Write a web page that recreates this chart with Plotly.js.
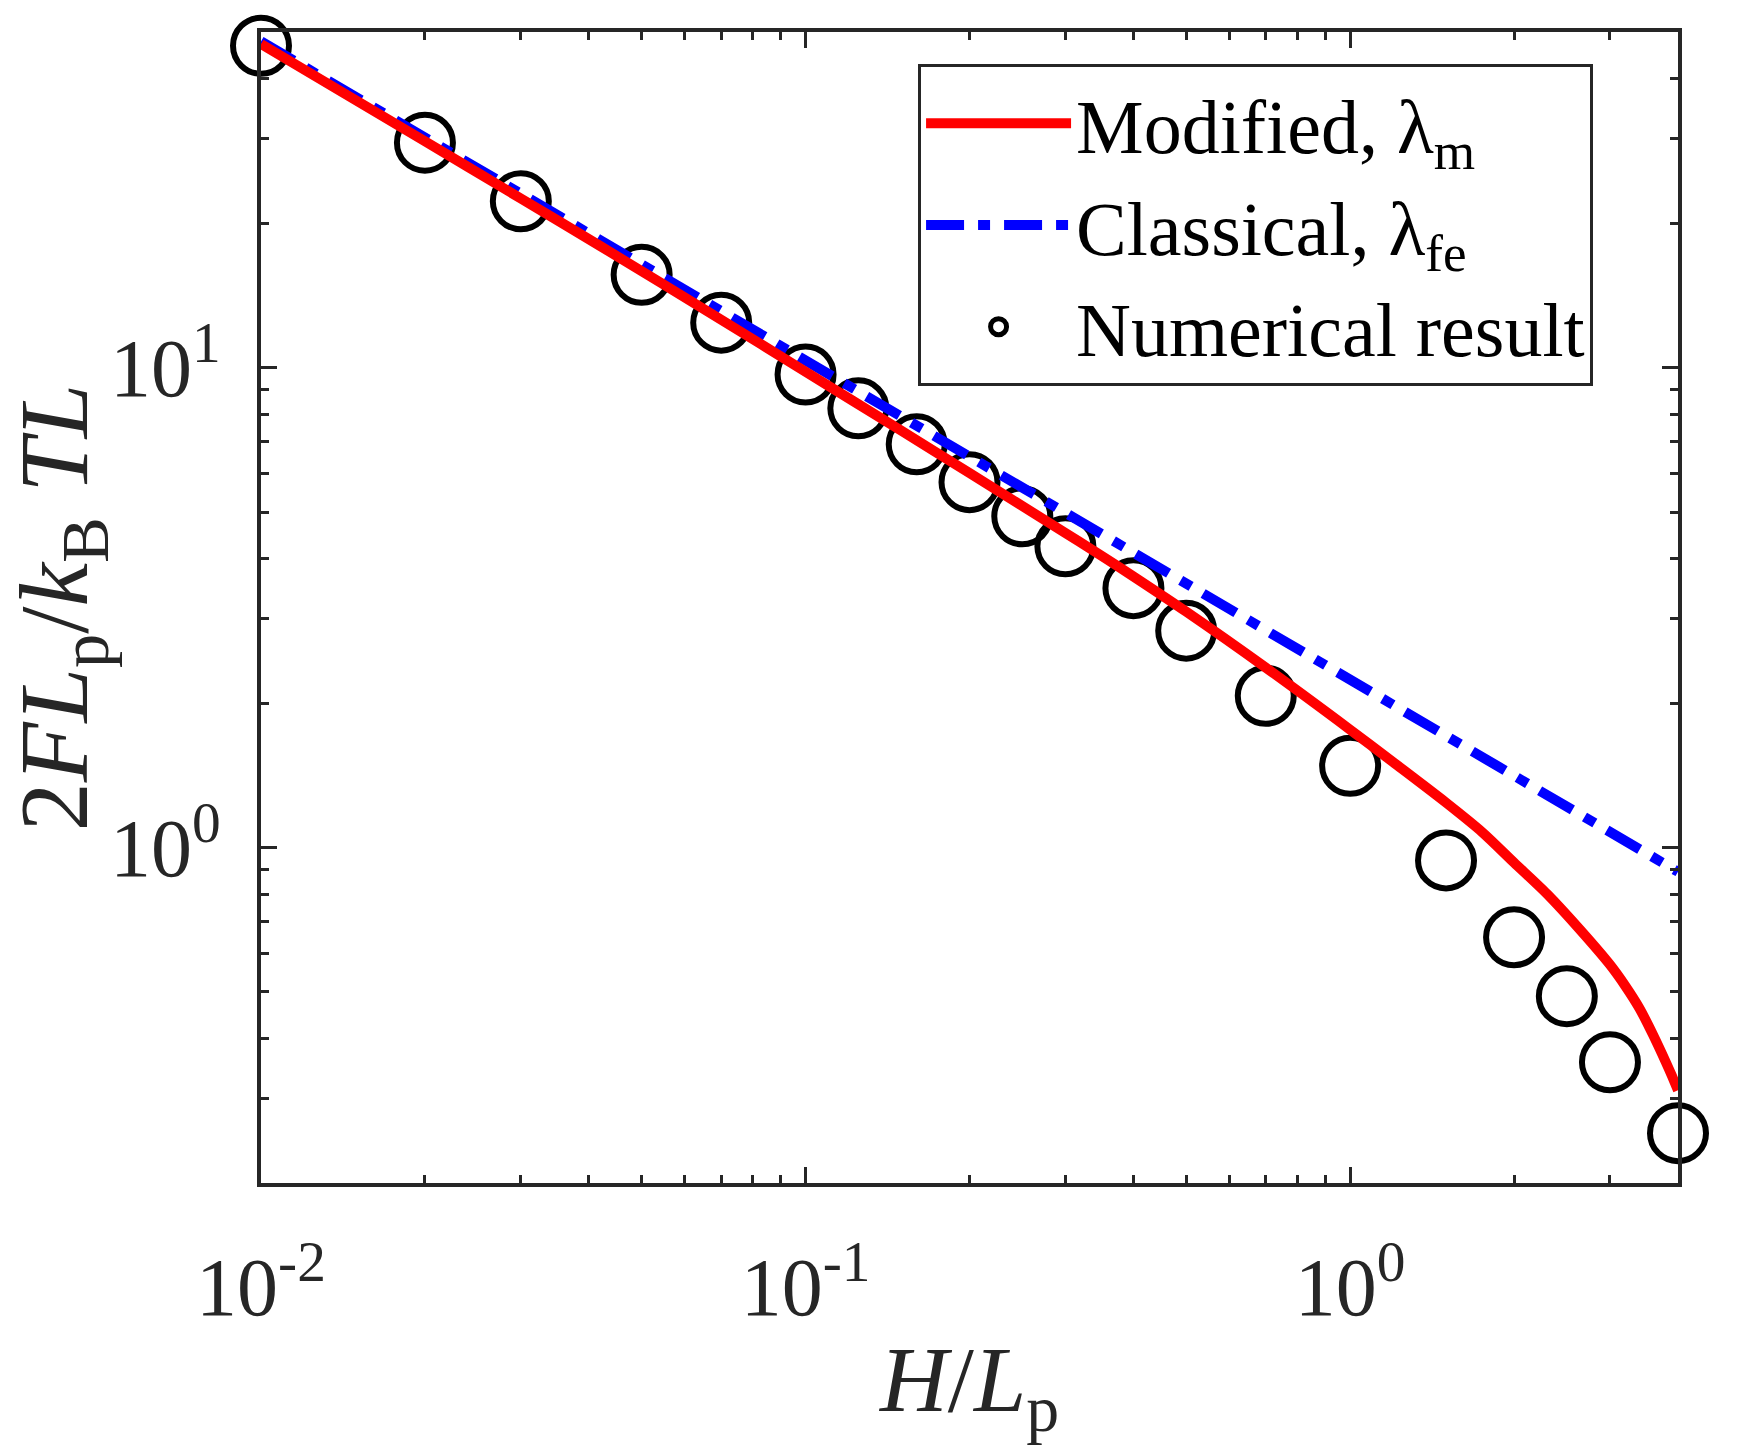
<!DOCTYPE html>
<html>
<head>
<meta charset="utf-8">
<script src="https://cdn.plot.ly/plotly-3.0.1.min.js"></script>
<style>
  html, body { margin: 0; padding: 0; background: #fff; }
  #chart { width: 1752px; height: 1456px; }
</style>
</head>
<body>
<div id="chart"></div>
<script>
// numerical result (circles)
const hNum = [0.01, 0.02, 0.03, 0.05, 0.07, 0.1, 0.125, 0.16, 0.2, 0.25, 0.3, 0.4, 0.5, 0.7, 1, 1.5, 2, 2.5, 3, 4];
const fNum = [46.8, 29.4, 22.2, 15.6, 12.4, 9.67, 8.22, 6.92, 5.77, 4.90, 4.24, 3.47, 2.83, 2.07, 1.48, 0.94, 0.65, 0.49, 0.357, 0.254];

// modified theory, lambda_m (red solid)
const hMod = [0.01, 0.02, 0.03, 0.042, 0.07, 0.1, 0.15, 0.2, 0.3, 0.35, 0.4, 0.5, 0.7, 1.0, 1.2, 1.5, 1.75, 2.0, 2.3, 2.65, 3.0, 3.2, 3.4, 3.6, 3.8, 3.9, 4.0];
const fMod = [47.2, 29.6, 22.5, 17.9, 12.58, 9.80, 7.38, 6.03, 4.52, 4.05, 3.67, 3.10, 2.37, 1.76, 1.505, 1.24, 1.075, 0.93, 0.80, 0.672, 0.570, 0.515, 0.462, 0.407, 0.357, 0.334, 0.312];

// classical theory, lambda_fe (blue dash-dot)
const hCla = [0.01, 0.03, 0.1, 0.3, 1, 2, 4];
const fCla = [47.8, 23.0, 10.3, 4.95, 2.22, 1.40, 0.89];

const xTickVals = [0.01, 0.1, 1];
const xTickText = ['10<sup>-2</sup>', '10<sup>-1</sup>', '10<sup>0</sup>'];
const yTickVals = [1, 10];
const yTickText = ['10<sup>0</sup>', '10<sup>1</sup>'];

const FONT = 'Liberation Serif, Times New Roman, serif';
const INK = '#262626';

const traces = [
  {
    x: hNum, y: fNum,
    type: 'scatter', mode: 'markers',
    name: 'Numerical result',
    legendrank: 3,
    cliponaxis: false,
    marker: { symbol: 'circle-open', size: 56, color: '#000', line: { width: 6, color: '#000' } }
  },
  {
    x: hCla, y: fCla,
    type: 'scatter', mode: 'lines',
    name: 'Classical, \u03bb<sub>fe</sub>',
    legendrank: 2,
    line: { color: '#0000ff', width: 10, dash: '38px,14px,12px,14px' }
  },
  {
    x: hMod, y: fMod,
    type: 'scatter', mode: 'lines',
    name: 'Modified, \u03bb<sub>m</sub>',
    legendrank: 1,
    line: { color: '#ff0000', width: 10, shape: 'spline', smoothing: 0.8 }
  }
];

const axisBase = {
  type: 'log',
  showline: true,
  linecolor: INK,
  linewidth: 4,
  mirror: 'ticks',
  ticks: 'inside',
  ticklen: 16,
  tickwidth: 3,
  tickcolor: INK,
  showgrid: false,
  zeroline: false,
  tickmode: 'array',
  tickfont: { family: FONT, size: 82, color: INK },
  minor: { ticks: 'inside', ticklen: 8, tickwidth: 3, tickcolor: INK, dtick: 'D1', showgrid: false }
};

const layout = {
  width: 1752,
  height: 1456,
  margin: { l: 261, r: 74, t: 32, b: 273 },
  paper_bgcolor: '#fff',
  plot_bgcolor: '#fff',
  font: { family: FONT, color: INK },
  showlegend: true,
  xaxis: Object.assign({}, axisBase, {
    range: [Math.log10(0.01), Math.log10(4)],
    tickvals: xTickVals,
    ticktext: xTickText,
    ticklabelstandoff: 30,
    title: { text: '<i>H</i>/<i>L</i><sub>p</sub>', font: { family: FONT, size: 94, color: INK }, standoff: 14 }
  }),
  yaxis: Object.assign({}, axisBase, {
    range: [Math.log10(0.2), Math.log10(50)],
    tickvals: yTickVals,
    ticktext: yTickText,
    ticklabelstandoff: 20,
    title: { text: '2<i>FL</i><sub>p</sub>/<i>k</i><sub>B</sub> <i>TL</i>', font: { family: FONT, size: 98, color: INK }, standoff: 0 }
  }),
  legend: {
    x: 0.4637, y: 0.972,
    xanchor: 'left', yanchor: 'top',
    bgcolor: '#fff',
    bordercolor: INK,
    borderwidth: 3,
    itemwidth: 145,
    font: { family: FONT, size: 76, color: '#000' },
    tracegroupgap: 0
  }
};

Plotly.newPlot('chart', traces, layout, { displayModeBar: false, responsive: false });
</script>
</body>
</html>
